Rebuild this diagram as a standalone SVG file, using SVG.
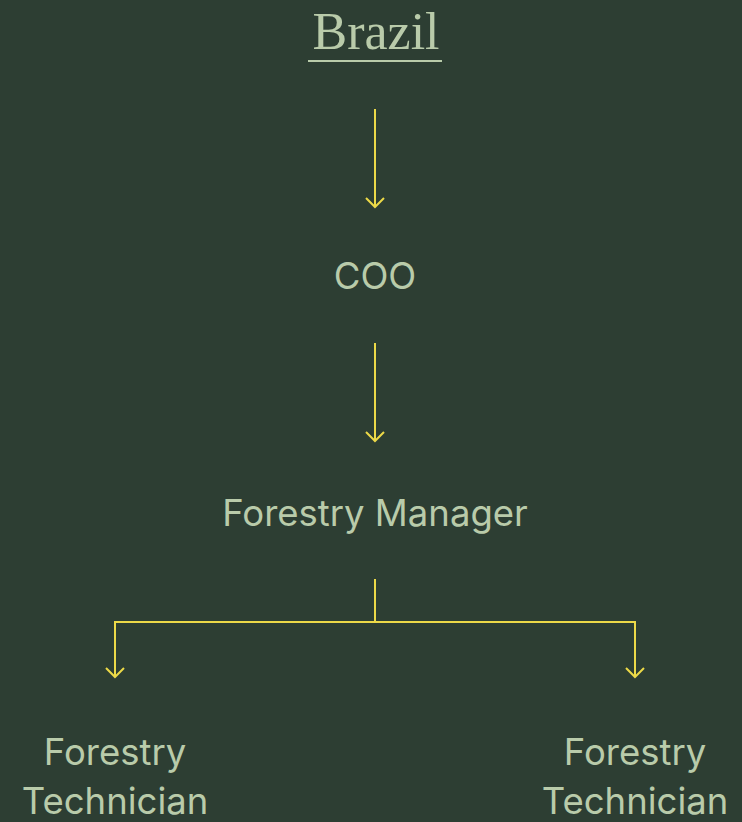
<svg xmlns="http://www.w3.org/2000/svg" width="742" height="822" viewBox="0 0 742 822">
<defs>
<style>
.bg{fill:#2d3e33}
.t{font-family:Inter,"Noto Sans","Liberation Sans",sans-serif;font-size:36.5px;fill:#b9cbaa;text-anchor:middle}
.title{font-family:"Liberation Serif","Times New Roman",serif;font-size:52px;fill:#b9cbaa;text-anchor:middle}
.c{fill:none;stroke:#ecd948;stroke-width:2}
</style>
<marker id="ah" markerUnits="userSpaceOnUse" markerWidth="24" markerHeight="24" viewBox="-12 -12 24 24" refX="0" refY="0" orient="auto">
<path d="M-9,-9 L0,0 L-9,9" fill="none" stroke="#ecd948" stroke-width="2"/>
</marker>
</defs>
<rect class="bg" x="0" y="0" width="742" height="822"/>
<g id="brazil">
<text class="title" x="376" y="49">Brazil</text>
<line x1="308" y1="61" x2="442" y2="61" stroke="#b9cbaa" stroke-width="2"/>
</g>
<g id="coo"><text class="t" x="375" y="289">COO</text></g>
<g id="forestry-manager"><text class="t" x="375" y="526">Forestry Manager</text></g>
<g id="tech-left"><text class="t" x="115" y="765">Forestry</text><text class="t" x="115" y="814">Technician</text></g>
<g id="tech-right"><text class="t" x="635" y="765">Forestry</text><text class="t" x="635" y="814">Technician</text></g>
<g id="connectors">
<path class="c" d="M375,109 V207" marker-end="url(#ah)"/>
<path class="c" d="M375,343 V441" marker-end="url(#ah)"/>
<path class="c" d="M375,579 V622"/>
<path class="c" d="M375,622 H115 V677" marker-end="url(#ah)"/>
<path class="c" d="M375,622 H635 V677" marker-end="url(#ah)"/>
</g>
</svg>
